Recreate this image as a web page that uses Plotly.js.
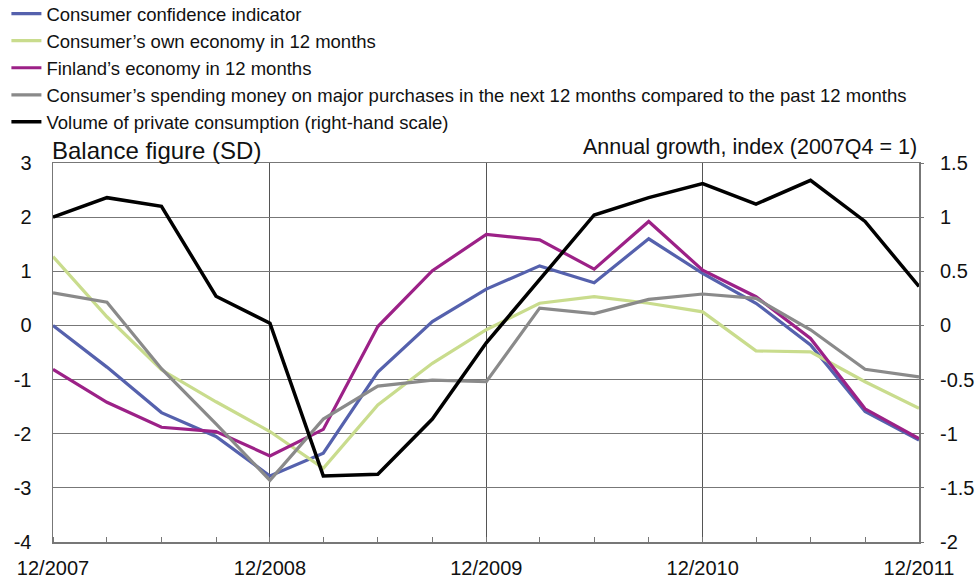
<!DOCTYPE html>
<html><head><meta charset="utf-8">
<script src="https://cdn.plot.ly/plotly-3.0.1.min.js"></script>
<style>html,body{margin:0;padding:0;background:#fff}#chart{width:980px;height:582px}</style>
</head><body><div id="chart"></div>
<script>
const quarters = ["2007-12-01","2008-03-01","2008-06-01","2008-09-01","2008-12-01","2009-03-01","2009-06-01","2009-09-01","2009-12-01","2010-03-01","2010-06-01","2010-09-01","2010-12-01","2011-03-01","2011-06-01","2011-09-01","2011-12-01"];
const yearTickVals = ["2007-12-01","2008-12-01","2009-12-01","2010-12-01","2011-12-01"];
const yearTickText = ["12/2007","12/2008","12/2009","12/2010","12/2011"];
const leftTickVals = [-4, -3, -2, -1, 0, 1, 2, 3];
const leftTickText = ["-4", "-3", "-2", "-1", "0", "1", "2", "3"];
const rightTickVals = [-2, -1.5, -1, -0.5, 0, 0.5, 1, 1.5];
const rightTickText = ["-2", "-1.5", "-1", "-0.5", "0", "0.5", "1", "1.5"];
const seriesNames = ["Consumer confidence indicator","Consumer\u2019s own economy in 12 months","Finland\u2019s economy in 12 months","Consumer\u2019s spending money on major purchases in the next 12 months compared to the past 12 months","Volume of private consumption (right-hand scale)"];
const confidence = [0, -0.77, -1.61, -2.05, -2.78, -2.36, -0.86, 0.07, 0.67, 1.10, 0.79, 1.60, 0.96, 0.41, -0.36, -1.59, -2.12];
const ownEconomy = [1.27, 0.16, -0.82, -1.41, -1.96, -2.64, -1.47, -0.70, -0.08, 0.41, 0.53, 0.41, 0.25, -0.47, -0.49, -1.04, -1.53];
const finlandEconomy = [-0.81, -1.42, -1.88, -1.96, -2.41, -1.92, -0.02, 1.01, 1.68, 1.58, 1.04, 1.92, 1.02, 0.53, -0.24, -1.54, -2.09];
const majorPurchases = [0.60, 0.43, -0.80, -1.82, -2.86, -1.73, -1.12, -1.01, -1.04, 0.32, 0.22, 0.48, 0.58, 0.50, -0.08, -0.81, -0.95];
const privateConsumption = [1.0, 1.18, 1.10, 0.27, 0.02, -1.39, -1.375, -0.865, -0.16, 0.42, 1.02, 1.18, 1.31, 1.12, 1.34, 0.96, 0.36];
const colors = ["#5561ad", "#c9dc8d", "#9c2187", "#8a8a8a", "#000000"];

const leftSeries = [confidence, ownEconomy, finlandEconomy, majorPurchases];
const traces = leftSeries.map((ys, i) => ({
  x: quarters, y: ys, name: seriesNames[i], type: "scatter", mode: "lines",
  line: {color: colors[i], width: 3.2}, yaxis: "y"
}));
traces.push({x: quarters, y: privateConsumption, name: seriesNames[4], type: "scatter", mode: "lines",
  line: {color: colors[4], width: 3.5}, yaxis: "y2"});

const font = "Liberation Sans, Arial, sans-serif";
const layout = {
  width: 980, height: 582,
  margin: {l: 53, r: 61, t: 163, b: 40, autoexpand: false},
  paper_bgcolor: "#fff", plot_bgcolor: "#fff",
  font: {family: font, color: "#111"},
  showlegend: true,
  legend: {x: -0.0538, y: 1.443, xanchor: "left", yanchor: "top",
    bgcolor: "rgba(0,0,0,0)", font: {size: 18.5, family: font, color: "#111"}, tracegroupgap: 0},
  xaxis: {type: "date", range: ["2007-12-01", "2011-12-01"], tickmode: "array",
    tickvals: yearTickVals, ticktext: yearTickText, ticks: "", showgrid: true, gridcolor: "#555", gridwidth: 1,
    showline: true, linecolor: "#777", linewidth: 1.5, mirror: true, zeroline: false,
    tickfont: {size: 20}, ticklabelstandoff: 7,
    minor: {ticks: "inside", ticklen: 5, tickcolor: "#777", tick0: "2007-12-01", dtick: "M3", showgrid: false}},
  yaxis: {range: [-4, 3], tickmode: "array", tickvals: leftTickVals, ticktext: leftTickText,
    showgrid: true, gridcolor: "#777", gridwidth: 1,
    showline: true, linecolor: "#777", linewidth: 1.5, mirror: true, zeroline: false, ticks: "",
    tickfont: {size: 20}, ticklabelstandoff: 16},
  yaxis2: {range: [-2, 1.5], tickmode: "array", tickvals: rightTickVals, ticktext: rightTickText,
    overlaying: "y", side: "right", showgrid: false,
    zeroline: false, ticks: "outside", ticklen: 4, tickcolor: "#777", tickfont: {size: 20}, ticklabelstandoff: 12},
  annotations: [
    {text: "Balance figure (SD)", xref: "paper", yref: "paper", x: -0.004, y: 1.034, xanchor: "left", yanchor: "middle",
      showarrow: false, font: {size: 24, family: font, color: "#111"}},
    {text: "Annual growth, index (2007Q4 = 1)", xref: "paper", yref: "paper", x: 1.0, y: 1.042, xanchor: "right", yanchor: "middle",
      showarrow: false, font: {size: 21.5, family: font, color: "#111"}}
  ]
};
Plotly.newPlot("chart", traces, layout, {displayModeBar: false, staticPlot: true});
</script></body></html>
